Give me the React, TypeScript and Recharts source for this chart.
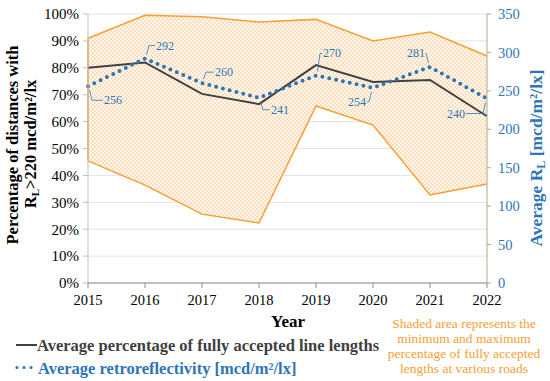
import {
  ComposedChart,
  Area,
  Line,
  XAxis,
  YAxis,
  CartesianGrid,
  ReferenceLine,
  LabelList,
} from "recharts";

const years = [2015, 2016, 2017, 2018, 2019, 2020, 2021, 2022];
const acceptedPct = [0.8, 0.82, 0.703, 0.665, 0.81, 0.747, 0.755, 0.62];
const retroreflectivity = [256, 292, 260, 241, 270, 254, 281, 240];
const minPct = [0.454, 0.364, 0.256, 0.223, 0.658, 0.587, 0.327, 0.368];
const maxPct = [0.91, 0.995, 0.99, 0.97, 0.98, 0.9, 0.933, 0.844];
const pctTicks = [0, 0.1, 0.2, 0.3, 0.4, 0.5, 0.6, 0.7, 0.8, 0.9, 1];
const rlTicks = [0, 50, 100, 150, 200, 250, 300, 350];

const data = years.map((year, i) => ({
  year,
  accepted: acceptedPct[i],
  retro: retroreflectivity[i],
  range: [minPct[i], maxPct[i]],
}));

// where each data label sits, relative to its point
const labelOffsets = [
  { dx: 25, dy: 14 },
  { dx: 20, dy: -13 },
  { dx: 22, dy: -11 },
  { dx: 21, dy: 12 },
  { dx: 16, dy: -22 },
  { dx: -16, dy: 14 },
  { dx: -14, dy: -14 },
  { dx: -31, dy: 15 },
];

const BLUE = "#2E75B6";
const DARK = "#404040";
const ORANGE = "#F5A033";
const FONT = "Liberation Serif, DejaVu Serif, serif";

const RetroLabel = (props: any) => {
  const { x, y, value, index } = props;
  const o = labelOffsets[index];
  const lx = x + o.dx;
  const ly = y + o.dy;
  const sx = Math.sign(o.dx);
  const sy = Math.sign(o.dy);
  const cx = x + sx * 4;
  const ex = lx - sx * 10;
  const pts = [`${x + sx * 1.5},${y + sy * 4}`, `${cx},${ly}`];
  if ((ex - cx) * sx > 0) pts.push(`${ex},${ly}`);
  return (
    <g>
      <polyline points={pts.join(" ")} fill="none" stroke={BLUE} strokeWidth={0.8} />
      <text x={lx} y={ly + 4} textAnchor="middle" fill={BLUE} fontSize={12} style={{ fontFamily: FONT }}>
        {value}
      </text>
    </g>
  );
};

export default function App() {
  return (
    <div style={{ position: "absolute", left: 0, top: 0, width: 550, height: 381, background: "#fff", fontFamily: FONT }}>
      <ComposedChart
        width={550}
        height={381}
        data={data}
        margin={{ top: 14, right: 0, bottom: 68, left: 0 }}
        style={{ fontFamily: FONT }}
      >
        <defs>
          <pattern id="checker" width="4" height="4" patternUnits="userSpaceOnUse">
            <rect width="4" height="4" fill="#FFF7EE" />
            <rect width="2" height="2" fill="#FCDFBC" />
            <rect x="2" y="2" width="2" height="2" fill="#FCDFBC" />
          </pattern>
        </defs>
        <CartesianGrid yAxisId="left" vertical={false} stroke="#E3E3E3" />
        <XAxis
          dataKey="year"
          type="number"
          domain={[2015, 2022]}
          ticks={years}
          height={30}
          tickSize={5}
          tickMargin={7}
          stroke="#8C8C8C"
          tick={{ fill: "#000", fontSize: 14.5, style: { fontFamily: FONT } }}
        />
        <YAxis
          yAxisId="left"
          domain={[0, 1]}
          ticks={pctTicks}
          width={88}
          tickSize={5}
          tickMargin={4}
          stroke="#BFBFBF"
          tickFormatter={(v: number) => `${Math.round(v * 100)}%`}
          tick={{ fill: "#000", fontSize: 15, style: { fontFamily: FONT } }}
        />
        <YAxis
          yAxisId="right"
          orientation="right"
          domain={[0, 350]}
          ticks={rlTicks}
          width={63}
          tickSize={4}
          tickMargin={7}
          stroke="#A9AE8A"
          tick={{ fill: BLUE, fontSize: 14.5, style: { fontFamily: FONT } }}
        />
        <Area
          yAxisId="left"
          dataKey="range"
          type="linear"
          stroke={ORANGE}
          strokeWidth={1.5}
          fill="url(#checker)"
          fillOpacity={1}
          isAnimationActive={false}
        />
        <ReferenceLine
          yAxisId="left"
          segment={[
            { x: years[0], y: minPct[0] },
            { x: years[0], y: maxPct[0] },
          ]}
          stroke={ORANGE}
          strokeWidth={1.5}
        />
        <Line
          yAxisId="left"
          dataKey="accepted"
          type="linear"
          stroke={DARK}
          strokeWidth={2}
          dot={false}
          isAnimationActive={false}
        />
        <Line
          yAxisId="right"
          dataKey="retro"
          type="linear"
          stroke={BLUE}
          strokeWidth={4}
          strokeDasharray="0 7"
          strokeLinecap="round"
          dot={false}
          isAnimationActive={false}
        >
          <LabelList dataKey="retro" content={RetroLabel} />
        </Line>
      </ComposedChart>

      <svg
        width={550}
        height={381}
        style={{ position: "absolute", left: 0, top: 0, pointerEvents: "none", fontFamily: FONT }}
      >
        <text transform="translate(18,145) rotate(-90)" textAnchor="middle" fontSize={16.5} fontWeight="bold" fill="#000">
          Percentage of distances with
        </text>
        <text transform="translate(36,144) rotate(-90)" textAnchor="middle" fontSize={16.5} fontWeight="bold" fill="#000">
          R<tspan fontSize={11} dy={3}>L</tspan>
          <tspan dy={-3}>&gt;220 mcd/m²/lx</tspan>
        </text>
        <text transform="translate(542,158) rotate(-90)" textAnchor="middle" fontSize={17.5} fontWeight="bold" fill={BLUE}>
          Average R<tspan fontSize={12} dy={3}>L</tspan>
          <tspan dy={-3}> [mcd/m²/lx]</tspan>
        </text>
        <text x={288} y={327} textAnchor="middle" fontSize={17} fontWeight="bold" fill="#000">
          Year
        </text>

        <line x1={16} y1={345} x2={37} y2={345} stroke={DARK} strokeWidth={2} />
        <text x={37} y={350.5} fontSize={16.5} fontWeight="bold" fill={DARK}>
          Average percentage of fully accepted line lengths
        </text>
        <line x1={17} y1={367.5} x2={36} y2={367.5} stroke={BLUE} strokeWidth={3.2} strokeDasharray="0 7" strokeLinecap="round" />
        <text x={38} y={373.5} fontSize={16.5} fontWeight="bold" fill={BLUE}>
          Average retroreflectivity [mcd/m²/lx]
        </text>

        <g fontSize={13.5} fill={ORANGE} textAnchor="middle">
          <text x={464} y={328}>Shaded area represents the</text>
          <text x={464} y={343}>minimum and maximum</text>
          <text x={464} y={358}>percentage of fully accepted</text>
          <text x={464} y={373}>lengths at various roads</text>
        </g>
      </svg>
    </div>
  );
}
